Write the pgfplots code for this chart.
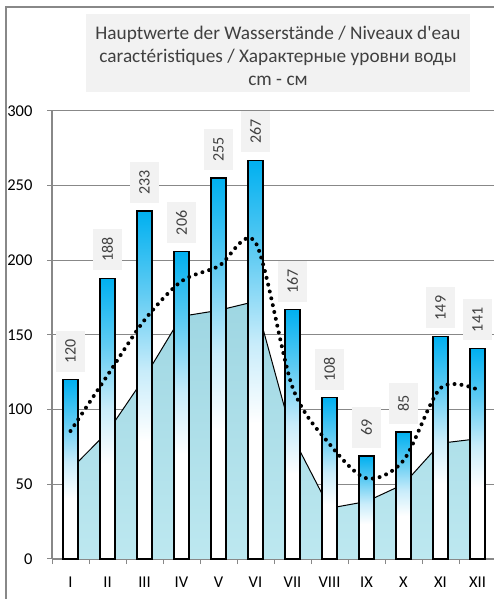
\documentclass[border=0pt]{standalone}
\usepackage{fontspec}
\setmainfont{Carlito}
\usepackage{pgfplots}
\pgfplotsset{compat=1.18}
\definecolor{barcyan}{HTML}{00B0F0}
\definecolor{barmid}{HTML}{62CCF3}
\definecolor{barlight}{HTML}{C8ECFA}
\definecolor{gridgray}{HTML}{888888}
\definecolor{titlegray}{HTML}{F2F2F2}
\definecolor{txtgray}{HTML}{404040}
\definecolor{watertop}{HTML}{9ED6E2}
\definecolor{waterbot}{HTML}{BDE8F0}
\pgfdeclareverticalshading{barshade}{100bp}{color(0bp)=(white); color(25bp)=(white); color(42bp)=(white); color(52bp)=(barlight); color(63bp)=(barmid); color(75bp)=(barcyan); color(100bp)=(barcyan)}
\pgfplotsset{
  mybar/.style={ybar, bar width=15pt, bar shift=0pt, draw=black, line width=1.4pt, shade, shading=barshade,
    nodes near coords,
    nodes near coords style={rotate=90, anchor=west, fill=titlegray, minimum width=41pt, minimum height=29pt, inner sep=0pt, outer xsep=8pt, font=\fontsize{16}{16}\selectfont, text=txtgray}},
}
\begin{document}
\begin{tikzpicture}[x=1pt,y=1pt]
\useasboundingbox (0,0) rectangle (494,599);
\draw[gridgray, line width=1.3pt] (6,-20) -- (6,592) -- (520,592);
\fill[titlegray] (86,507) rectangle (470,585);
\node[align=center, text=txtgray, font=\fontsize{19.3}{23}\selectfont, inner sep=0pt] at (278,543) {Hauptwerte der Wasserstände / Niveaux d\textquotesingle eau\\caractéristiques / Характерные уровни воды\\cm - см};
\begin{axis}[
  at={(52pt,40pt)}, anchor=south west,
  scale only axis, width=444pt, height=448pt,
  xmin=-0.5, xmax=11.5, ymin=0, ymax=300,
  axis x line=bottom, axis y line=left,
  axis line style={-, gridgray, line width=1.2pt},
  ytick={0,50,...,300},
  ymajorgrids, grid style={gridgray, line width=1pt},
  xtick={0,...,11},
  xticklabels={I,II,III,IV,V,VI,VII,VIII,IX,X,XI,XII},
  minor xtick={-0.5,0.5,...,11.5},
  major x tick style={draw=none},
  tick align=outside,
  major tick length=5pt, minor tick length=5pt,
  tick style={gridgray, line width=1pt},
  /pgf/number format/assume math mode=true,
  tick label style={font=\fontsize{16.5}{16.5}\selectfont, text=black},
  yticklabel style={xshift=-11pt},
  xticklabel style={yshift=-9pt},
  clip=false,
]
% water area
\addplot[draw=none, top color=watertop, bottom color=waterbot] coordinates {
(0,60) (1,85) (2,121.5) (3,162.5) (4,166.5) (5,172.5) (6,82) (7,34) (8,38.5) (9,50) (10,77.5) (11,80.5)
} \closedcycle;
\addplot[black, line width=1pt] coordinates {
(0,60) (1,85) (2,121.5) (3,162.5) (4,166.5) (5,172.5) (6,82) (7,34) (8,38.5) (9,50) (10,77.5) (11,80.5)
};
% bars (one plot per bar so that each bar gets its own gradient)
\addplot[mybar] coordinates {(0,120)};
\addplot[mybar] coordinates {(1,188)};
\addplot[mybar] coordinates {(2,233)};
\addplot[mybar] coordinates {(3,206)};
\addplot[mybar] coordinates {(4,255)};
\addplot[mybar] coordinates {(5,267)};
\addplot[mybar] coordinates {(6,167)};
\addplot[mybar] coordinates {(7,108)};
\addplot[mybar] coordinates {(8,69)};
\addplot[mybar] coordinates {(9,85)};
\addplot[mybar] coordinates {(10,149)};
\addplot[mybar] coordinates {(11,141)};
% dotted smoothed line
\addplot[black, smooth, line width=4pt, line cap=round, dash pattern=on 0pt off 7pt] coordinates {
(0,85.7) (1,123) (2,160) (3,186) (4,196) (5,212) (6,115) (7,77) (8,54) (9,66) (10,114.5) (11,113.5)
};
\end{axis}
\end{tikzpicture}
\end{document}
